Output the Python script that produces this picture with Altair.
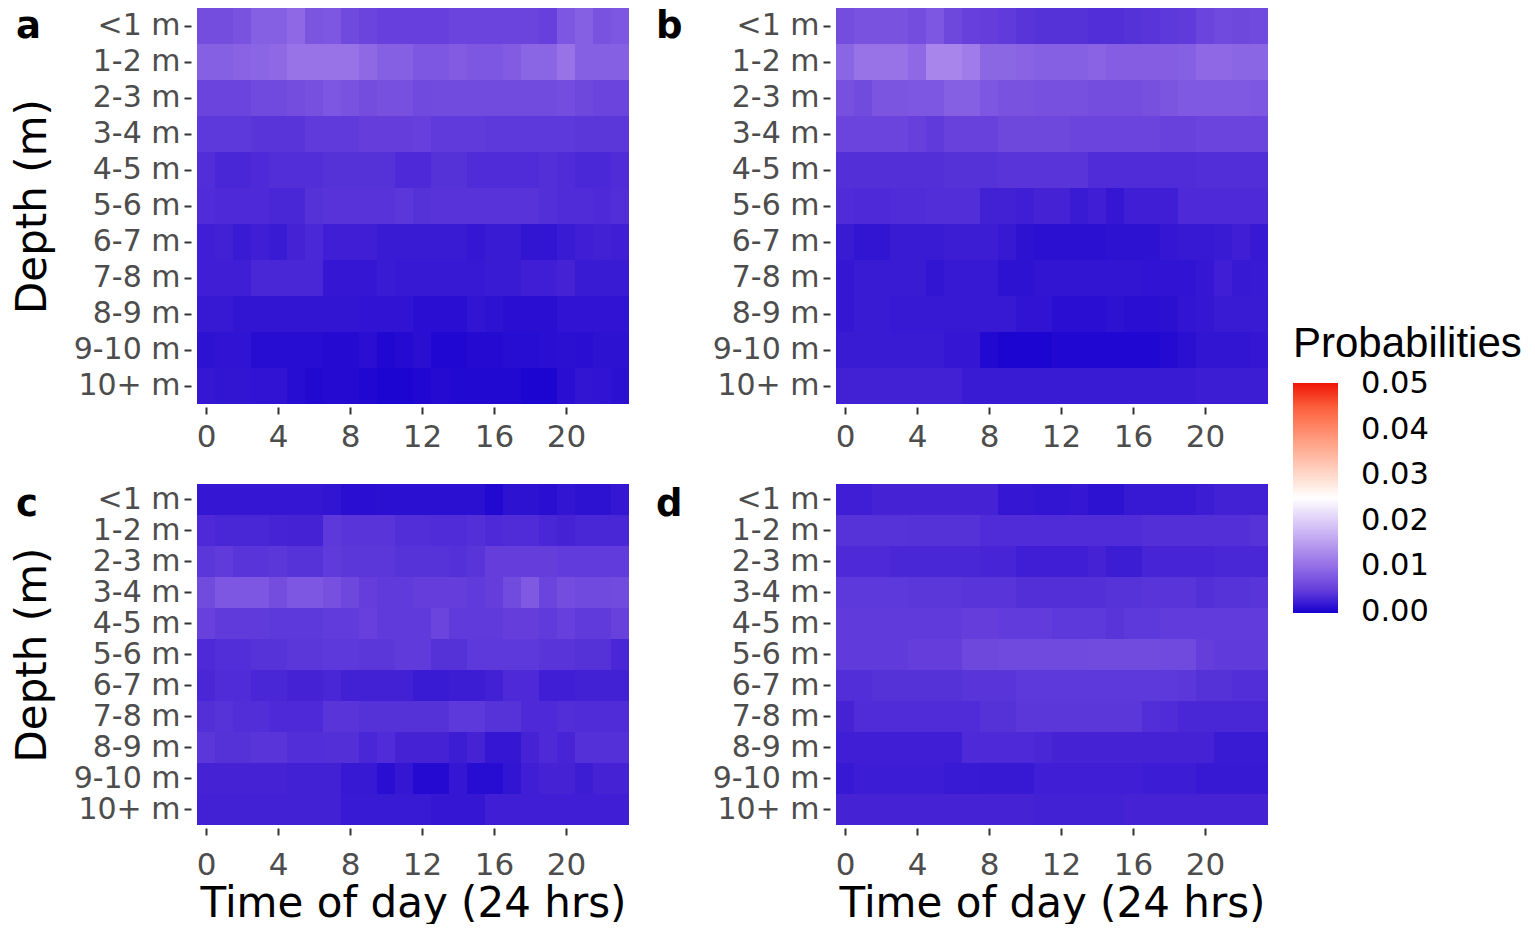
import altair as alt
import pandas as pd

hours = list(range(24))
depths = ["<1 m", "1-2 m", "2-3 m", "3-4 m", "4-5 m", "5-6 m",
          "6-7 m", "7-8 m", "8-9 m", "9-10 m", "10+ m"]
panel_letters = ["a", "b", "c", "d"]
x_tick_values = [0, 4, 8, 12, 16, 20]
legend_values = [0.0, 0.01, 0.02, 0.03, 0.04, 0.05]

# probabilities x 1000; one row per depth class, one column per hour (0..23)
panel_a = [
    [6.5, 6.5, 7.0, 8.5, 8.5, 9.5, 7.2, 7.5, 6.0, 5.5, 5.0, 5.0, 5.0, 5.0, 5.5, 5.5, 5.5, 5.5, 5.5, 5.0, 7.5, 8.5, 7.0, 7.5],
    [8.5, 8.5, 8.8, 9.0, 9.5, 10.5, 10.5, 10.5, 10.5, 9.5, 8.5, 8.5, 7.5, 7.5, 8.0, 7.5, 7.5, 8.0, 9.0, 9.0, 10.5, 8.5, 8.5, 8.5],
    [5.5, 5.5, 5.5, 6.0, 6.0, 6.5, 6.8, 7.5, 7.0, 6.5, 6.8, 6.8, 6.0, 6.2, 6.2, 6.2, 6.2, 6.2, 6.2, 6.2, 6.5, 5.8, 5.5, 5.5],
    [4.2, 4.2, 4.2, 3.8, 3.8, 3.8, 4.5, 4.5, 4.5, 4.8, 4.8, 4.8, 5.0, 4.5, 4.5, 4.5, 4.2, 4.2, 4.2, 4.2, 4.2, 4.0, 4.0, 4.0],
    [3.2, 2.5, 2.5, 2.8, 3.2, 3.2, 3.2, 3.5, 3.5, 3.5, 3.5, 2.8, 2.8, 3.5, 3.5, 3.0, 3.0, 3.0, 3.0, 3.3, 3.0, 2.7, 2.7, 3.0],
    [3.0, 2.8, 2.8, 2.8, 2.5, 2.5, 3.5, 3.7, 3.7, 3.7, 3.7, 4.0, 3.5, 3.7, 3.7, 3.7, 3.7, 3.7, 3.7, 3.3, 3.0, 3.0, 2.8, 3.2],
    [1.8, 2.0, 1.5, 1.8, 1.5, 2.2, 2.7, 1.8, 1.8, 1.8, 1.5, 1.5, 1.5, 1.5, 1.5, 1.2, 1.5, 1.5, 1.0, 1.0, 1.5, 1.8, 2.0, 1.8],
    [1.8, 1.8, 1.8, 2.5, 2.5, 2.5, 2.5, 1.2, 1.2, 1.2, 1.5, 1.3, 1.3, 1.3, 1.3, 1.3, 1.5, 1.5, 1.8, 1.8, 2.2, 1.5, 1.5, 1.5],
    [1.3, 1.3, 1.0, 1.0, 1.0, 1.0, 1.0, 1.0, 1.0, 0.9, 0.9, 0.9, 0.6, 0.6, 0.6, 1.0, 0.8, 0.6, 0.6, 0.6, 0.9, 0.9, 0.9, 0.9],
    [0.8, 0.9, 0.9, 0.5, 0.5, 0.5, 0.5, 0.4, 0.4, 0.6, 0.2, 0.4, 0.6, 0.2, 0.2, 0.4, 0.4, 0.5, 0.5, 0.6, 0.7, 0.6, 0.8, 0.8],
    [1.2, 1.0, 1.0, 0.9, 0.9, 0.5, 0.3, 0.4, 0.4, 0.2, 0.1, 0.1, 0.2, 0.4, 0.3, 0.3, 0.3, 0.3, 0.1, 0.1, 0.6, 1.0, 0.9, 0.7],
]
panel_b = [
    [6.5, 7.0, 7.0, 7.0, 6.5, 7.5, 5.8, 5.0, 4.8, 4.5, 3.8, 3.5, 3.5, 3.5, 3.2, 3.2, 3.5, 3.8, 4.2, 4.5, 5.5, 6.0, 5.8, 6.0],
    [9.0, 10.5, 10.5, 10.5, 9.5, 12.5, 12.5, 11.5, 9.2, 9.2, 8.8, 8.5, 8.5, 8.5, 8.8, 8.2, 8.2, 8.2, 8.2, 8.5, 9.5, 9.5, 9.0, 9.0],
    [6.8, 6.2, 7.2, 7.2, 7.5, 7.5, 8.5, 8.5, 7.5, 7.0, 7.0, 6.8, 6.8, 6.8, 6.5, 6.5, 6.5, 6.8, 7.2, 7.8, 7.8, 7.8, 7.8, 7.5],
    [5.5, 5.5, 5.5, 5.5, 5.0, 4.5, 5.2, 5.2, 5.2, 5.8, 5.8, 5.8, 5.8, 5.5, 5.5, 5.5, 5.5, 5.5, 5.2, 5.2, 5.5, 5.5, 5.5, 5.5],
    [3.3, 3.3, 3.3, 3.3, 3.3, 3.3, 3.5, 3.5, 3.5, 3.8, 3.8, 3.8, 3.8, 3.8, 3.0, 3.0, 3.0, 3.0, 3.0, 3.0, 3.2, 3.2, 3.2, 3.2],
    [3.0, 2.8, 2.8, 3.0, 3.0, 3.2, 3.2, 3.2, 2.0, 2.0, 1.8, 2.2, 2.2, 1.5, 1.8, 1.2, 1.8, 1.8, 1.8, 2.8, 2.8, 2.8, 2.8, 2.8],
    [1.5, 1.0, 1.0, 1.5, 1.5, 1.5, 1.7, 1.7, 1.7, 1.3, 0.8, 0.7, 0.7, 0.7, 0.7, 0.8, 0.8, 0.8, 1.2, 1.3, 1.3, 1.5, 1.8, 1.3],
    [1.2, 1.5, 1.5, 1.5, 1.5, 1.0, 1.3, 1.3, 1.3, 0.8, 0.8, 1.0, 1.0, 1.0, 1.0, 1.0, 1.0, 0.9, 0.9, 0.9, 1.2, 1.8, 1.3, 1.4],
    [1.2, 1.5, 1.5, 1.3, 1.3, 1.3, 1.3, 1.3, 1.3, 1.3, 0.9, 0.9, 0.6, 0.6, 0.6, 0.8, 0.6, 0.6, 0.7, 1.0, 1.2, 1.5, 1.5, 1.5],
    [1.5, 1.5, 1.5, 1.5, 1.5, 1.5, 1.2, 1.2, 0.3, 0.1, 0.1, 0.1, 0.2, 0.2, 0.2, 0.2, 0.2, 0.2, 0.4, 0.7, 1.0, 1.0, 1.0, 1.2],
    [2.0, 2.0, 2.0, 2.0, 2.0, 2.0, 2.0, 1.5, 1.5, 1.5, 1.5, 1.5, 1.5, 1.5, 1.5, 1.5, 1.5, 1.5, 1.5, 1.5, 1.7, 1.7, 1.7, 1.7],
]
panel_c = [
    [1.2, 1.2, 1.2, 1.2, 1.2, 1.2, 1.2, 1.0, 0.6, 0.6, 0.7, 0.7, 0.7, 0.7, 0.7, 0.7, 0.3, 0.8, 0.8, 0.6, 1.0, 0.8, 0.8, 1.2],
    [2.8, 2.5, 2.5, 2.5, 2.3, 2.2, 2.2, 4.2, 3.8, 3.8, 3.8, 3.2, 3.2, 3.0, 3.0, 3.3, 2.8, 3.0, 3.0, 2.5, 2.2, 2.5, 2.5, 2.5],
    [4.0, 4.5, 3.8, 3.8, 4.0, 3.6, 3.6, 4.5, 4.0, 4.0, 4.0, 3.6, 3.6, 3.6, 3.4, 3.8, 4.8, 4.8, 4.8, 4.8, 4.6, 4.6, 4.6, 4.6],
    [6.2, 7.5, 7.5, 7.5, 6.5, 7.5, 7.5, 6.8, 5.8, 4.8, 4.5, 4.5, 4.8, 4.8, 4.8, 4.5, 4.8, 6.2, 7.8, 5.5, 6.5, 6.0, 6.0, 6.2],
    [5.2, 4.5, 4.5, 4.5, 4.2, 4.2, 4.2, 4.6, 4.6, 5.0, 4.5, 4.5, 4.5, 5.5, 4.5, 4.5, 4.5, 4.8, 4.8, 4.5, 5.0, 4.5, 4.5, 5.2],
    [2.8, 3.2, 3.2, 3.6, 3.6, 4.0, 4.0, 4.2, 4.2, 4.0, 4.0, 4.5, 4.5, 3.5, 3.5, 4.2, 4.2, 4.2, 4.2, 3.8, 3.8, 3.5, 3.5, 2.5],
    [2.5, 3.0, 3.0, 2.5, 2.5, 2.2, 2.2, 2.5, 2.0, 2.0, 2.0, 2.0, 1.5, 1.5, 1.7, 1.7, 2.0, 2.8, 2.8, 1.8, 1.8, 2.0, 2.0, 2.0],
    [3.3, 3.6, 3.2, 3.2, 2.8, 2.8, 2.8, 3.8, 3.8, 3.5, 3.5, 3.5, 3.5, 3.5, 4.2, 4.2, 3.6, 3.6, 2.8, 2.8, 3.2, 3.0, 3.0, 3.0],
    [4.0, 3.5, 3.5, 3.8, 3.8, 3.2, 3.2, 3.3, 3.3, 2.5, 3.0, 2.2, 2.2, 2.2, 1.7, 2.2, 1.2, 1.2, 2.2, 2.8, 2.4, 3.4, 3.4, 3.4],
    [2.2, 2.2, 2.2, 2.2, 2.2, 2.0, 2.0, 2.0, 1.3, 1.3, 0.6, 1.2, 0.4, 0.4, 1.2, 0.5, 0.5, 1.0, 1.8, 2.2, 2.2, 1.7, 2.2, 2.2],
    [2.0, 2.0, 2.0, 2.0, 2.0, 2.0, 2.0, 2.0, 1.4, 1.4, 1.4, 1.4, 1.4, 1.2, 1.2, 1.2, 1.8, 1.8, 1.8, 1.8, 1.8, 1.8, 1.8, 1.8],
]
panel_d = [
    [1.8, 1.8, 2.2, 2.2, 2.2, 2.2, 2.2, 2.2, 2.2, 1.2, 1.2, 1.0, 1.0, 1.2, 0.8, 0.8, 1.3, 1.3, 1.3, 1.3, 1.7, 2.0, 2.0, 2.0],
    [3.6, 3.6, 3.6, 3.6, 3.5, 3.5, 3.5, 3.5, 3.0, 3.0, 3.0, 3.0, 3.0, 3.0, 3.0, 3.0, 3.0, 3.3, 3.3, 3.3, 3.3, 3.3, 3.3, 3.6],
    [2.8, 2.8, 2.8, 2.6, 2.6, 2.6, 2.6, 2.6, 2.4, 2.4, 1.8, 1.8, 1.8, 1.8, 2.2, 1.7, 1.7, 2.4, 2.4, 2.4, 2.4, 2.6, 2.6, 2.6],
    [4.2, 4.2, 4.2, 4.2, 4.0, 4.0, 4.0, 3.8, 3.8, 3.8, 3.3, 3.3, 3.3, 3.3, 3.3, 3.6, 3.6, 3.8, 3.8, 3.8, 3.3, 3.6, 3.6, 3.8],
    [4.5, 4.5, 4.5, 4.5, 4.5, 4.5, 4.5, 4.8, 4.8, 4.6, 4.6, 4.6, 4.2, 4.2, 4.2, 3.8, 4.2, 4.2, 4.6, 4.6, 4.6, 4.6, 4.6, 4.6],
    [4.5, 4.5, 4.5, 4.5, 4.8, 4.8, 4.8, 5.8, 5.8, 6.0, 6.0, 6.0, 6.0, 6.0, 6.2, 6.2, 6.2, 6.2, 6.0, 6.0, 4.8, 4.5, 4.5, 4.5],
    [3.2, 3.2, 3.5, 3.5, 3.5, 3.5, 3.5, 3.8, 3.8, 3.8, 4.2, 4.2, 4.2, 4.2, 4.2, 4.2, 4.2, 4.2, 4.2, 4.0, 3.5, 3.5, 3.2, 3.2],
    [2.2, 3.0, 3.0, 3.0, 3.0, 3.0, 3.0, 3.0, 3.5, 3.5, 4.0, 4.0, 4.0, 4.0, 4.0, 4.0, 4.0, 3.2, 3.0, 2.5, 2.5, 2.5, 2.5, 2.5],
    [1.8, 1.8, 1.8, 1.8, 1.8, 1.8, 1.8, 2.8, 2.8, 2.8, 2.8, 2.5, 2.2, 2.2, 2.2, 2.2, 2.2, 2.2, 2.2, 2.2, 2.2, 1.5, 1.5, 1.5],
    [1.3, 1.6, 1.6, 1.6, 1.6, 1.6, 1.4, 1.4, 1.3, 1.3, 1.3, 1.8, 1.8, 1.8, 1.8, 1.8, 1.8, 1.6, 1.6, 1.6, 1.3, 1.3, 1.3, 1.3],
    [2.2, 2.2, 2.2, 2.2, 2.2, 2.2, 2.2, 2.2, 2.2, 2.2, 2.2, 2.0, 2.0, 2.0, 2.0, 2.0, 2.2, 2.2, 2.2, 2.2, 2.2, 2.2, 2.2, 2.2],
]

panels = {"a": panel_a, "b": panel_b, "c": panel_c, "d": panel_d}
records = []
for letter, grid in panels.items():
    assert len(grid) == len(depths), letter
    for depth, row in zip(depths, grid):
        assert len(row) == len(hours), (letter, depth)
        for hour, v in zip(hours, row):
            records.append({"panel": letter, "depth": depth, "hour": hour, "prob": v / 1000.0})
df = pd.DataFrame(records)

FONT = "DejaVu Sans"
color_scale = alt.Scale(domain=[-0.0002, 0.025, 0.0502],
                        range=["#1200D0", "#FFFFFF", "#EE1206"],
                        interpolate="lab")
legend = alt.Legend(
    type="gradient",
    title="Probabilities", orient="none", legendX=1096, legendY=316, padding=0,
    direction="vertical", values=legend_values, format=".2f",
    gradientLength=230, gradientThickness=45, gradientStrokeWidth=0,
    labelFont=FONT, labelFontSize=30.5, labelColor="black", labelOffset=23,
    labelOverlap=False,
    titleFont="Liberation Sans", titleFontSize=42, titleFontWeight="normal",
    titleColor="black", titlePadding=17, titleLimit=400,
)


def make_panel(letter, height, bottom_row, show_ytitle, letter_dx, letter_y):
    xaxis = alt.Axis(values=x_tick_values,
                     title="Time of day (24 hrs)" if bottom_row else None,
                     offset=3, labelPadding=15 if bottom_row else 8,
                     titlePadding=3, labelFlush=False)
    yaxis = alt.Axis(title="Depth (m)" if show_ytitle else None,
                     offset=6, labelPadding=4, titlePadding=19, labelOverlap=False,
                     labelFontSize=30)
    tiles = alt.Chart(df).transform_filter(
        alt.datum.panel == letter
    ).transform_calculate(
        h0="datum.hour - 0.5", h1="datum.hour + 0.5"
    ).mark_rect().encode(
        x=alt.X("h0:Q", scale=alt.Scale(domain=[-0.5, 23.5], nice=False, zero=False), axis=xaxis),
        x2="h1:Q",
        y=alt.Y("depth:N", sort=depths,
                scale=alt.Scale(domain=depths, paddingInner=0, paddingOuter=0), axis=yaxis),
        color=alt.Color("prob:Q", scale=color_scale, legend=legend),
    )
    tag = alt.Chart(alt.Data(values=[{"tag": letter}])).mark_text(
        align="left", baseline="alphabetic", font=FONT, fontSize=37,
        fontWeight="bold", color="black"
    ).encode(x=alt.value(letter_dx), y=alt.value(letter_y), text="tag:N")
    return alt.layer(tiles, tag).properties(width=432, height=height)


pa = make_panel("a", 396, False, True, -181, 30)
pb = make_panel("b", 396, False, False, -180, 30)
pc = make_panel("c", 341, True, True, -181, 32)
pd_ = make_panel("d", 341, True, False, -180, 32)

row1 = alt.hconcat(pa, pb, spacing=27)
row2 = alt.hconcat(pc, pd_, spacing=27)

chart = alt.vconcat(row1, row2, spacing=32).properties(
    padding={"left": 3, "top": 0, "right": 0, "bottom": 0},
    background="white",
).configure_view(
    strokeWidth=0
).configure_axis(
    labelFont=FONT, labelFontSize=31, labelColor="#4D4D4D",
    tickColor="#333333", tickWidth=2, tickSize=7,
    domain=False, grid=False,
    titleFont=FONT, titleFontSize=42, titleFontWeight="normal", titleColor="black",
)

chart.save("out.html", embed_options={"renderer": "svg", "actions": False})
